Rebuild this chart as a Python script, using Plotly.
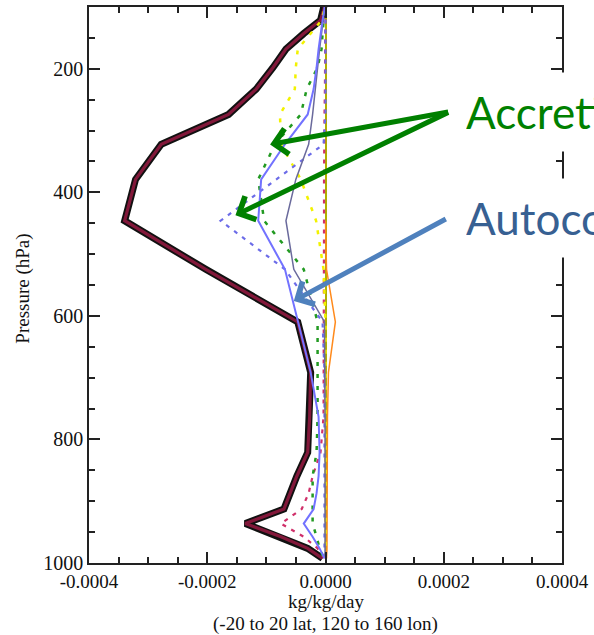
import plotly.graph_objects as go

# Model mid-level pressures (hPa)
levels = [87.82, 103.32, 121.55, 142.99, 168.23, 197.91, 232.83, 273.91, 322.24,
          379.10, 445.99, 524.69, 609.78, 691.39, 763.40, 820.86, 859.53, 887.02,
          912.64, 936.20, 957.49, 976.33, 992.56]

# Tendencies in kg/kg/day (values x 1e-6)
total = [0, -2.5, -8.4, -36.8, -66.9, -88.7, -117.2, -164.0, -277.8, -321.3, -339.7,
         -202.5, -46.9, -25.1, -26.8, -30.1, -48.5, -60.3, -70.3, -135.6, -75.3, -30.1, -5.0]
accretion_a = [0, -1.7, -5.0, -8.4, -11.7, -15.1, -20.1, -30.1, -68.6, -108.8, -113.8,
               -68.6, -46.9, -25.1, -11.7, -10.0, -11.7, -15.1, -20.1, -36.8, -21.8, -10.0, -1.7]
autoconv = [0, -1.7, -3.3, -6.7, -10.0, -13.4, -16.7, -21.8, -28.5, -50.2, -66.9,
            -53.6, -1.7, -0.8, -0.8, -0.8, -0.8, -0.8, -0.8, -0.8, -0.8, -0.8, -0.8]
accretion_b = [0, -1.7, -3.3, -5.0, -6.7, -13.4, -31.8, -41.8, -85.4, -113.8, -103.8,
               -36.8, -13.4, -13.4, -13.4, -15.1, -21.8, -21.8, -21.8, -21.8, -15.1, -10.0, -3.3]
accretion_c = [0, 0, 0, 0, 0, 0, 0, 0, -3.3, -83.7, -177.4,
               -68.6, -5.0, -1.7, -1.7, -1.7, -1.7, -1.7, -1.7, -1.7, -1.7, -1.7, -1.7]
evap = [0, -1.7, -6.7, -25.1, -46.9, -50.2, -51.9, -77.0, -75.3, -41.8, -15.9,
        -3.3, 0, 0, 0, 0, 0, 0, 0, 0, 0, 0, 0]
melt = [0, 0, 0, 0, 0, 0, -1.0, -1.7, -2.5, -2.5, -2.5,
        -2.5, -2.5, -2.5, -3.3, -8.4, -21.8, -28.5, -40.2, -75.3, -36.8, -13.4, -1.7]
sedim = [None, None, None, None, None, None, None, None, None, None, 0,
         1.7, 16.7, 5.0, 3.3, 3.3, 3.3, 3.3, 3.3, 3.3, 3.3, 2.5, 1.7]

x_ticks = [-0.0004, -0.0002, 0.0, 0.0002, 0.0004]
x_labels = ["-0.0004", "-0.0002", "0.0000", "0.0002", "0.0004"]
y_ticks = [200, 400, 600, 800, 1000]
y_labels = ["200", "400", "600", "800", "1000"]

SCALE = 1e-6


def scaled(vals):
    return [None if v is None else v * SCALE for v in vals]


fig = go.Figure()

# heavy outlined total curve
fig.add_trace(go.Scatter(x=scaled(total), y=levels, mode="lines",
                         line=dict(color="#111111", width=7)))
fig.add_trace(go.Scatter(x=scaled(total), y=levels, mode="lines",
                         line=dict(color="#82183a", width=3.2)))

fig.add_trace(go.Scatter(x=scaled(sedim), y=levels, mode="lines",
                         line=dict(color="#ff8a1c", width=1.5)))
fig.add_trace(go.Scatter(x=scaled(melt), y=levels, mode="lines",
                         line=dict(color="#d0306a", width=2.2, dash="4px,6px")))
fig.add_trace(go.Scatter(x=scaled(evap), y=levels, mode="lines",
                         line=dict(color="#f2f200", width=2.5, dash="4px,8px")))
fig.add_trace(go.Scatter(x=scaled(accretion_b), y=levels, mode="lines",
                         line=dict(color="#229a22", width=2.5, dash="4px,8px")))
fig.add_trace(go.Scatter(x=scaled(accretion_c), y=levels, mode="lines",
                         line=dict(color="#6c6ce8", width=2.2, dash="4px,6px")))
fig.add_trace(go.Scatter(x=scaled(autoconv), y=levels, mode="lines",
                         line=dict(color="#6a6a9c", width=1.5)))
fig.add_trace(go.Scatter(x=scaled(accretion_a), y=levels, mode="lines",
                         line=dict(color="#7272ff", width=2)))

serif = "Liberation Serif, Times New Roman, serif"
axis_font = dict(family=serif, size=19, color="#111111")
frame = "#222222"

fig.update_xaxes(
    range=[-0.0004, 0.0004], tickmode="array", tickvals=x_ticks, ticktext=x_labels,
    ticks="inside", ticklen=11, tickwidth=1.5, tickcolor=frame,
    minor=dict(tickmode="linear", tick0=0, dtick=0.00005, ticks="inside",
               ticklen=6, tickwidth=1.5, tickcolor=frame),
    showline=True, mirror="ticks", linecolor=frame, linewidth=1.5,
    showgrid=False, zeroline=True, zerolinecolor="#b0b000", zerolinewidth=1.5,
    tickfont=axis_font, ticklabeloverflow="allow",
)
fig.update_yaxes(
    range=[1000, 100], tickmode="array", tickvals=y_ticks, ticktext=y_labels,
    ticks="inside", ticklen=11, tickwidth=1.5, tickcolor=frame,
    minor=dict(tickmode="linear", tick0=0, dtick=50, ticks="inside",
               ticklen=6, tickwidth=1.5, tickcolor=frame),
    showline=True, mirror="ticks", linecolor=frame, linewidth=1.5,
    showgrid=False, zeroline=False, tickfont=dict(family=serif, size=20, color="#111111"),
)

title_font = dict(family=serif, size=19, color="#111111")
annotations = [
    dict(text="kg/kg/day", xref="paper", yref="paper", x=0.5, y=-0.0700,
         xanchor="center", yanchor="middle", showarrow=False, font=title_font),
    dict(text="(-20 to 20 lat, 120 to 160 lon)", xref="paper", yref="paper",
         x=0.5, y=-0.1100, xanchor="center", yanchor="middle", showarrow=False,
         font=title_font),
    dict(text="Pressure (hPa)", xref="paper", yref="paper", x=-0.14, y=0.493,
         xanchor="center", yanchor="middle", textangle=-90, showarrow=False,
         font=dict(family=serif, size=19, color="#111111")),
    # callout labels with white boxes
    dict(text="Accretion", xref="paper", yref="y", x=0.795, y=270,
         xanchor="left", yanchor="middle", height=78, valign="middle",
         bgcolor="white", borderpad=0, showarrow=False,
         font=dict(family="Lato, Open Sans, sans-serif", size=44, color="#008000")),
    dict(text="Autoconversion", xref="paper", yref="y", x=0.795, y=441,
         xanchor="left", yanchor="middle", height=78, valign="middle",
         bgcolor="white", borderpad=0, showarrow=False,
         font=dict(family="Lato, Open Sans, sans-serif", size=44, color="#376092")),
    # callout arrows
    dict(text="", xref="x", yref="y", axref="x", ayref="y",
         x=-0.0000937, y=322.6, ax=0.000210, ay=269.4, showarrow=True,
         arrowhead=4, arrowsize=1.0, arrowwidth=5, arrowcolor="#008000"),
    dict(text="", xref="x", yref="y", axref="x", ayref="y",
         x=-0.0001523, y=437.1, ax=0.000210, ay=269.4, showarrow=True,
         arrowhead=4, arrowsize=1.0, arrowwidth=5, arrowcolor="#008000"),
    dict(text="", xref="x", yref="y", axref="x", ayref="y",
         x=-0.0000536, y=575.8, ax=0.000206, ay=441.9, showarrow=True,
         arrowhead=4, arrowsize=1.0, arrowwidth=5, arrowcolor="#4f81bd"),
]

fig.update_layout(
    width=594, height=635,
    margin=dict(l=89, r=27, t=5, b=72),
    plot_bgcolor="white", paper_bgcolor="white",
    showlegend=False, annotations=annotations,
)

fig.write_html("out.html")
